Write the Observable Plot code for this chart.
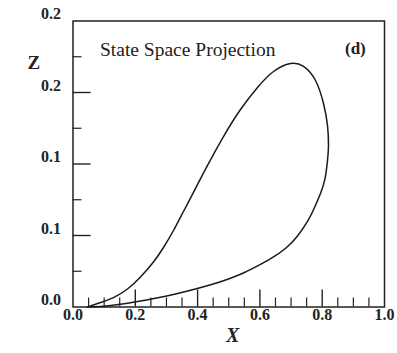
<!DOCTYPE html>
<html>
<head>
<meta charset="utf-8">
<script src="https://cdn.jsdelivr.net/npm/d3@7"></script>
<script src="https://cdn.jsdelivr.net/npm/@observablehq/plot@0.6"></script>
<style>
  html, body { margin: 0; padding: 0; background: #fff; }
  svg { display: block; }
</style>
</head>
<body>
<div id="chart"></div>
<script>
// Loop in state space (X, Z), traced in order
const loopX = [0.0465, 0.0883, 0.1300, 0.1750, 0.2167, 0.2584, 0.2905, 0.3226, 0.3547, 0.3933, 0.4318, 0.4831, 0.5377, 0.5923, 0.6437, 0.6982, 0.7400, 0.7785, 0.8042, 0.8170, 0.8202, 0.8170, 0.8090, 0.7945, 0.7753, 0.7528, 0.7207, 0.6854, 0.6437, 0.5987, 0.5506, 0.4992, 0.4446, 0.3868, 0.3291, 0.2681, 0.2071, 0.1461, 0.0883, 0.0465];
const loopZ = [0.0000, 0.0031, 0.0066, 0.0126, 0.0210, 0.0315, 0.0416, 0.0535, 0.0668, 0.0829, 0.0990, 0.1192, 0.1381, 0.1535, 0.1647, 0.1703, 0.1682, 0.1584, 0.1423, 0.1269, 0.1129, 0.1024, 0.0898, 0.0794, 0.0696, 0.0598, 0.0497, 0.0416, 0.0350, 0.0294, 0.0241, 0.0196, 0.0157, 0.0122, 0.0091, 0.0063, 0.0038, 0.0017, 0.0003, 0.0000];

const xMajor = [0.0, 0.2, 0.4, 0.6, 0.8, 1.0];
const xMajorLabels = ["0.0", "0.2", "0.4", "0.6", "0.8", "1.0"];
const xMinor = [0.05, 0.1, 0.15, 0.25, 0.3, 0.35, 0.45, 0.5, 0.55, 0.65, 0.7, 0.75, 0.85, 0.9, 0.95];
const yMajor = [0.0, 0.05, 0.10, 0.15, 0.20];
const yMajorLabels = ["0.0", "0.1", "0.1", "0.2", "0.2"];
const yMinor = [0.025, 0.075, 0.125, 0.175];

const title = "State Space Projection";
const panel = "(d)";
const xLabel = "X";
const yLabel = "Z";

const loop = loopX.map((x, i) => ({x, z: loopZ[i]}));
const W = 397, H = 353;
const mL = 72.5, mR = 13, mT = 20.5, mB = 46.5;
const innerW = W - mL - mR, innerH = H - mT - mB;
const serif = "Liberation Serif, Times New Roman, serif";

const chart = Plot.plot({
  width: W,
  height: H,
  marginLeft: mL,
  marginRight: mR,
  marginTop: mT,
  marginBottom: mB,
  x: {domain: [0, 1], axis: null},
  y: {domain: [0, 0.2], axis: null},
  style: {background: "#fff", fontFamily: serif},
  marks: [
    // minor & major ticks, pointing inward
    Plot.tickX(xMinor, {x: d => d, insetTop: innerH - 9, stroke: "#222", strokeWidth: 1.2}),
    Plot.tickX(xMajor.slice(1, -1), {x: d => d, insetTop: innerH - 17, stroke: "#222", strokeWidth: 1.4}),
    Plot.tickY(yMinor, {y: d => d, insetRight: innerW - 9, stroke: "#222", strokeWidth: 1.2}),
    Plot.tickY(yMajor.slice(1, -1), {y: d => d, insetRight: innerW - 18, stroke: "#222", strokeWidth: 1.4}),
    Plot.frame({stroke: "#222", strokeWidth: 1.5}),
    // curve
    Plot.line(loop, {x: "x", y: "z", curve: "natural", stroke: "#1a1a1a", strokeWidth: 1.5}),
    // tick labels
    Plot.text(xMajor, {x: d => d, frameAnchor: "bottom", dy: 13, text: (d, i) => xMajorLabels[i], fontSize: 16, fontWeight: "bold", fill: "#222"}),
    Plot.text(yMajor, {y: d => d, frameAnchor: "left", dx: -12, dy: -7, text: (d, i) => yMajorLabels[i], textAnchor: "end", fontSize: 16, fontWeight: "bold", fill: "#222"}),
    // axis titles
    Plot.text([xLabel], {frameAnchor: "bottom", dx: 4, dy: 35, text: d => d, fontSize: 20, fontWeight: "bold", fontStyle: "italic", fill: "#222"}),
    Plot.text([yLabel], {frameAnchor: "top-left", dx: -45.5, dy: 34.5, text: d => d, fontSize: 19, fontWeight: "bold", fill: "#222"}),
    // title & panel letter
    Plot.text([title], {frameAnchor: "top-left", dx: 27, dy: 21, text: d => d, textAnchor: "start", fontSize: 19.5, fill: "#222"}),
    Plot.text([panel], {frameAnchor: "top-left", dx: 272, dy: 21, text: d => d, textAnchor: "start", fontSize: 17, fontWeight: "bold", fill: "#222"})
  ]
});
document.getElementById("chart").appendChild(chart);
</script>
</body>
</html>
